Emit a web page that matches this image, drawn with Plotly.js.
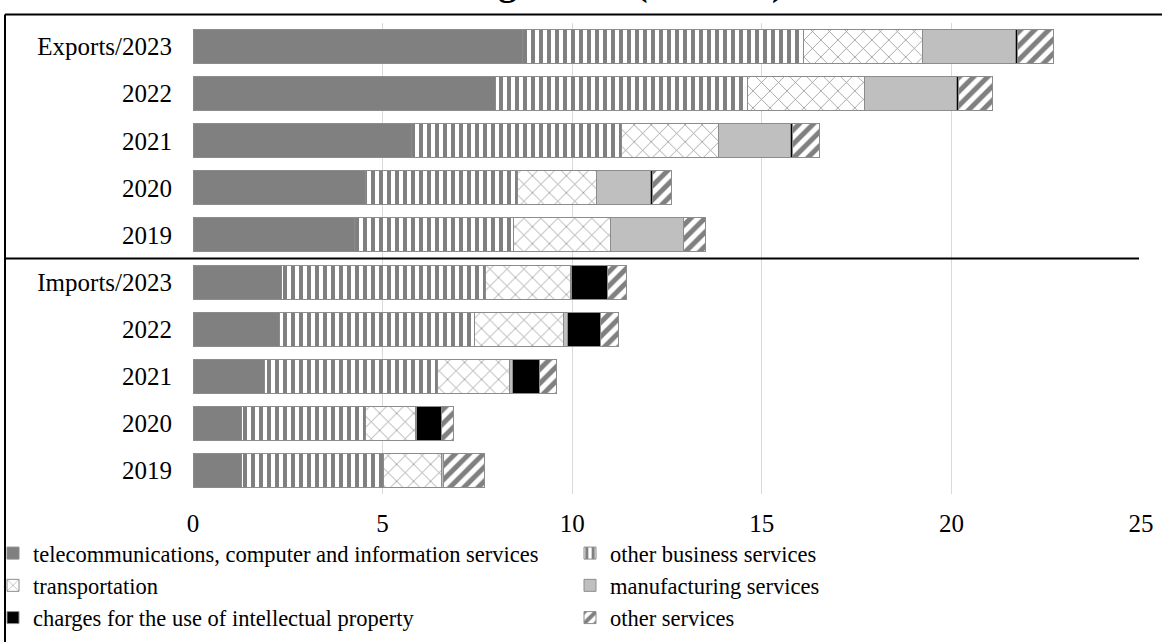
<!DOCTYPE html>
<html>
<head>
<meta charset="utf-8">
<script src="https://cdn.plot.ly/plotly-3.0.1.min.js"></script>
<style>
  html, body { margin: 0; padding: 0; background: #fff; }
  #chart { width: 1162px; height: 642px; }
</style>
</head>
<body>
<div id="chart"></div>
<script>
// Row keys (unique per bar) and the labels shown on the y axis
const rowKeys = ['E2023', 'E2022', 'E2021', 'E2020', 'E2019', 'I2023', 'I2022', 'I2021', 'I2020', 'I2019'];
const rowLabels = ['Exports/2023', '2022', '2021', '2020', '2019', 'Imports/2023', '2022', '2021', '2020', '2019'];

// Values by service type, USD bn (exports 2023..2019, then imports 2023..2019)
const telecom       = [8.70, 7.99, 5.77, 4.56, 4.25, 2.33, 2.28, 1.89, 1.29, 1.29];
const otherBusiness = [7.41, 6.63, 5.52, 4.01, 4.20, 5.38, 5.15, 4.57, 3.27, 3.73];
const transport     = [3.12, 3.08, 2.56, 2.07, 2.57, 2.24, 2.35, 1.89, 1.31, 1.53];
const manufacturing = [2.46, 2.44, 1.91, 1.42, 1.91, 0.03, 0.10, 0.07, 0.03, 0.06];
const ipCharges     = [0.05, 0.05, 0.05, 0.05, 0.00, 0.96, 0.86, 0.72, 0.65, 0.00];
const otherServices = [0.96, 0.89, 0.72, 0.51, 0.59, 0.50, 0.48, 0.44, 0.33, 1.08];

const xTicks = [0, 5, 10, 15, 20, 25];
const titleText = 'Trading trends (USD bn)';

const FONT = '"Liberation Serif", "Times New Roman", serif';
const outline = { color: '#8c8c8c', width: 1 };

function series(name, values, color, legendId, pattern) {
  const marker = { color: color, line: outline };
  if (pattern) marker.pattern = pattern;
  return {
    type: 'bar', orientation: 'h', name: name,
    x: values, y: rowKeys, marker: marker,
    legend: legendId,
    hoverinfo: 'x+name'
  };
}

const traces = [
  series('telecommunications, computer and information services', telecom, '#808080', 'legend'),
  series('other business services', otherBusiness, '#ffffff', 'legend2',
    { shape: '|', fgcolor: '#808080', bgcolor: '#ffffff', size: 8, solidity: 0.5 }),
  series('transportation', transport, '#ffffff', 'legend',
    { shape: 'x', fgcolor: '#8c8c8c', bgcolor: '#ffffff', size: 12, solidity: 0.12 }),
  series('manufacturing services', manufacturing, '#bfbfbf', 'legend2'),
  series('charges for the use of intellectual property', ipCharges, '#000000', 'legend'),
  series('other services', otherServices, '#ffffff', 'legend2',
    { shape: '/', fgcolor: '#808080', bgcolor: '#ffffff', size: 10, solidity: 0.5 })
];

// plot-area geometry used to place the frame, divider and legends in paper units
const plotLeft = 193, plotRight = 1141, plotTop = 22.5, plotBottom = 494;
const pw = plotRight - plotLeft, ph = plotBottom - plotTop;
const px = v => (v - plotLeft) / pw;
const py = v => (plotBottom - v) / ph;

const legendStyle = (left) => ({
  orientation: 'v', x: px(left), xanchor: 'left', y: py(532), yanchor: 'top',
  traceorder: 'normal',
  font: { family: FONT, size: 22.5, color: '#000' },
  bgcolor: 'rgba(0,0,0,0)', borderwidth: 0,
  itemclick: false, itemdoubleclick: false
});

const layout = {
  width: 1162, height: 642,
  paper_bgcolor: '#ffffff', plot_bgcolor: '#ffffff',
  font: { family: FONT, size: 25, color: '#000000' },
  margin: { l: plotLeft, r: 1162 - plotRight, t: plotTop, b: 642 - plotBottom, pad: 0, autoexpand: false },
  barmode: 'stack',
  bargap: 0.28,
  showlegend: true,
  xaxis: {
    range: [0, 25], tickvals: xTicks, ticktext: xTicks.map(String),
    showgrid: true, gridcolor: '#d9d9d9', gridwidth: 1,
    zeroline: false, showline: false, ticks: '',
    ticklabelstandoff: 12,
    tickfont: { family: FONT, size: 25, color: '#000' },
    fixedrange: true
  },
  yaxis: {
    type: 'category', categoryorder: 'array', categoryarray: rowKeys,
    tickvals: rowKeys, ticktext: rowLabels,
    autorange: 'reversed',
    showgrid: false, zeroline: false, showline: false, ticks: '',
    ticklabelstandoff: 20,
    tickfont: { family: FONT, size: 25, color: '#000' },
    fixedrange: true
  },
  legend: legendStyle(-7),
  legend2: legendStyle(570),
  shapes: [
    // divider between exports and imports
    { type: 'line', xref: 'paper', yref: 'y', x0: px(5), x1: px(1139), y0: 4.5, y1: 4.5,
      line: { color: '#000000', width: 2 } },
    // outer frame (top and left edges)
    { type: 'line', xref: 'paper', yref: 'paper', x0: px(5), x1: px(1170), y0: py(14), y1: py(14),
      line: { color: '#000000', width: 2 } },
    { type: 'line', xref: 'paper', yref: 'paper', x0: px(5), x1: px(5), y0: py(14), y1: py(660),
      line: { color: '#000000', width: 2 } }
  ],
  annotations: [
    { text: '<b>' + titleText + '</b>', xref: 'paper', yref: 'paper',
      x: px(587), y: 1, xanchor: 'center', yanchor: 'bottom', yshift: 17,
      showarrow: false, font: { family: FONT, size: 37, color: '#000' } }
  ]
};

Plotly.newPlot('chart', traces, layout, { displayModeBar: false, staticPlot: true });
</script>
</body>
</html>
